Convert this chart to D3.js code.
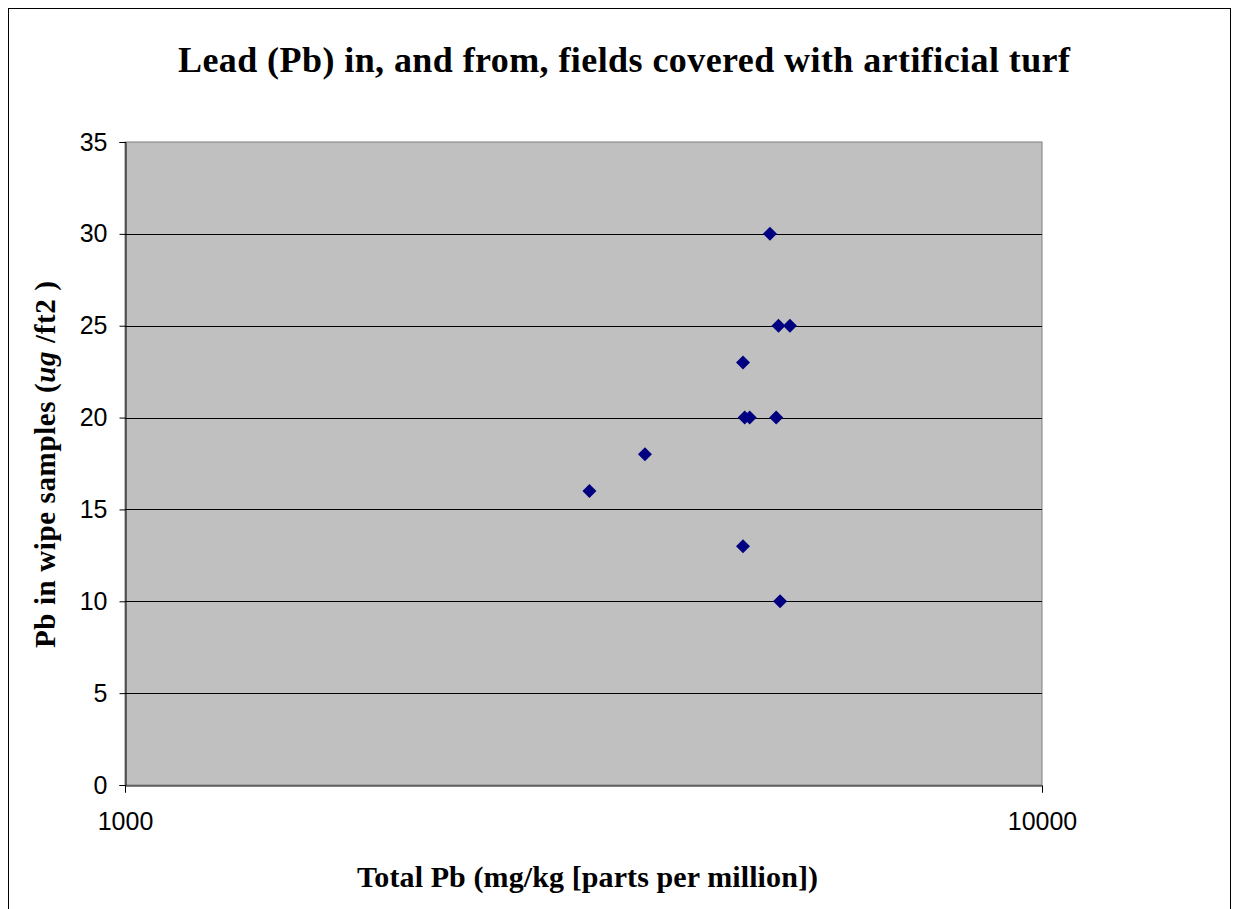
<!DOCTYPE html>
<html>
<head>
<meta charset="utf-8">
<script src="https://cdn.jsdelivr.net/npm/d3@7"></script>
<style>
  body { margin: 0; background: #fff; }
  svg text { fill: #000; }
</style>
</head>
<body>
<div id="svg-container"></div>
<script>
const w = 1239;
const h = 909;

// total Pb (mg/kg) vs Pb in wipe samples (ug/ft2)
const totalPb = [5050, 5160, 5310, 4720, 4740, 4800, 5130, 3690, 3210, 4720, 5180];
const wipePb  = [30,   25,   25,   23,   20,   20,   20,   18,   16,   13,   10];
const yTicks = [0, 5, 10, 15, 20, 25, 30, 35];
const xTicks = [1000, 10000];

const plot = { left: 125, right: 1042, top: 142, bottom: 785 };

const svg = d3.select("#svg-container")
    .append("svg")
    .attr("width", w)
    .attr("height", h);

// outer chart frame
svg.append("rect")
    .attr("x", 8.5).attr("y", 8.5)
    .attr("width", 1222).attr("height", 920)
    .attr("fill", "#fff")
    .attr("stroke", "#000")
    .attr("stroke-width", 1);

let xScale = d3.scaleLog()
    .domain([1000, 10000])
    .range([plot.left, plot.right]);

let yScale = d3.scaleLinear()
    .domain([0, 35])
    .range([plot.bottom, plot.top]);

svg.append("rect")
    .attr("x", plot.left).attr("y", plot.top)
    .attr("width", plot.right - plot.left)
    .attr("height", plot.bottom - plot.top)
    .attr("fill", "#c0c0c0")
    .attr("stroke", "#808080");

// gridlines
svg.append("g")
    .selectAll("line")
    .data(yTicks.filter(d => d > 0 && d < 35))
    .enter()
    .append("line")
    .attr("x1", plot.left).attr("x2", plot.right)
    .attr("y1", d => Math.round(yScale(d)) + 0.5)
    .attr("y2", d => Math.round(yScale(d)) + 0.5)
    .attr("stroke", "#000");

let yAxis = d3.axisLeft(yScale)
    .tickValues(yTicks)
    .tickSize(6)
    .tickPadding(12)
    .tickFormat(d3.format("d"));

let xAxis = d3.axisBottom(xScale)
    .tickValues(xTicks)
    .tickSize(7)
    .tickPadding(20)
    .tickFormat(d3.format("d"));

const gy = svg.append("g")
    .attr("transform", "translate(" + (plot.left + 0.5) + ", 0)")
    .call(yAxis);

const gx = svg.append("g")
    .attr("transform", "translate(0, " + (plot.bottom + 0.5) + ")")
    .call(xAxis);

[gx, gy].forEach(g => {
    g.select(".domain").attr("stroke", "#000");
    g.selectAll(".tick line").attr("stroke", "#000");
    g.selectAll(".tick text")
        .attr("font-family", "Liberation Sans, Arial, sans-serif")
        .attr("font-size", 25)
        .attr("fill", "#000");
});

// diamond markers
svg.selectAll("path.dot")
    .data(totalPb)
    .enter()
    .append("path")
    .attr("class", "dot")
    .attr("d", "M0,-7L7,0L0,7L-7,0Z")
    .attr("transform", (d, i) => "translate(" + xScale(d) + "," + yScale(wipePb[i]) + ")")
    .attr("fill", "#000080");

// title
svg.append("text")
    .attr("x", 178).attr("y", 72)
    .attr("textLength", 892)
    .attr("lengthAdjust", "spacing")
    .attr("font-family", "Liberation Serif, Times New Roman, serif")
    .attr("font-weight", "bold")
    .attr("font-size", 36)
    .text("Lead (Pb) in, and from, fields covered with artificial turf");

// x label
svg.append("text")
    .attr("x", 357).attr("y", 887)
    .attr("textLength", 461)
    .attr("lengthAdjust", "spacing")
    .attr("font-family", "Liberation Serif, Times New Roman, serif")
    .attr("font-weight", "bold")
    .attr("font-size", 30)
    .text("Total Pb (mg/kg [parts per million])");

// y label
const yl = svg.append("text")
    .attr("transform", "translate(55, 648) rotate(-90)")
    .attr("textLength", 367)
    .attr("lengthAdjust", "spacing")
    .attr("font-family", "Liberation Serif, Times New Roman, serif")
    .attr("font-weight", "bold")
    .attr("font-size", 29);
yl.append("tspan").text("Pb in wipe samples (");
yl.append("tspan").attr("font-style", "italic").text("ug");
yl.append("tspan").text(" /ft2 )");
</script>
</body>
</html>
